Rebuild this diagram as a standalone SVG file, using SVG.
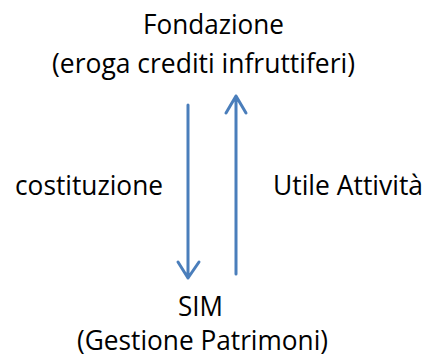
<svg xmlns="http://www.w3.org/2000/svg" width="428" height="358" viewBox="0 0 428 358">
<style>
text{font-family:"Open Sans","Liberation Sans",sans-serif;font-size:27px;fill:#000}
.arr{stroke:#4A7EBB;stroke-width:3;fill:none;stroke-linecap:round;stroke-linejoin:round}
</style>
<rect width="428" height="358" fill="#fff"/>
<g id="fondazione">
<text x="143" y="34" textLength="141" lengthAdjust="spacingAndGlyphs">Fondazione</text>
<text x="52" y="73" textLength="303" lengthAdjust="spacingAndGlyphs">(eroga crediti infruttiferi)</text>
</g>
<g id="sim">
<text x="178" y="316" textLength="45" lengthAdjust="spacingAndGlyphs">SIM</text>
<text x="77" y="350" textLength="251" lengthAdjust="spacingAndGlyphs">(Gestione Patrimoni)</text>
</g>
<g id="connectors">
<path class="arr" d="M188,105 V278 M178,262 L188,278 L199,262"/>
<path class="arr" d="M236,274 V96 M226,113 L236,96 L246,113"/>
<text x="15" y="195" textLength="148" lengthAdjust="spacingAndGlyphs">costituzione</text>
<text x="273" y="195" textLength="150" lengthAdjust="spacingAndGlyphs">Utile Attività</text>
</g>
</svg>
